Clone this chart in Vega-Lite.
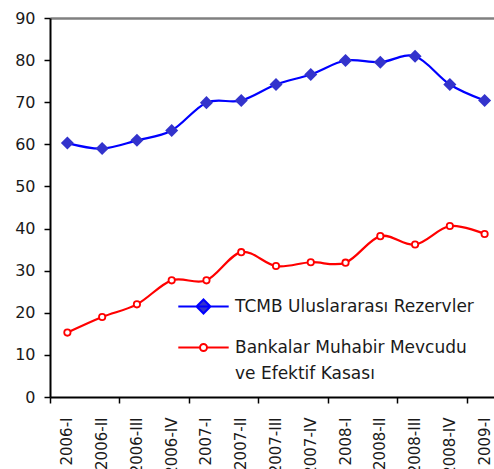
{
  "$schema": "https://vega.github.io/schema/vega-lite/v6.json",
  "width": 444,
  "height": 379,
  "autosize": {"type": "none"},
  "padding": {"left": 50, "top": 18, "right": 0, "bottom": 72},
  "background": "white",
  "config": {"view": {"stroke": null}, "font": "DejaVu Sans"},
  "data": {
    "values": [
      {"q": "2006-I", "series": "TCMB Uluslararası Rezervler", "v": 60.3},
      {"q": "2006-II", "series": "TCMB Uluslararası Rezervler", "v": 59.0},
      {"q": "2006-III", "series": "TCMB Uluslararası Rezervler", "v": 60.95},
      {"q": "2006-IV", "series": "TCMB Uluslararası Rezervler", "v": 63.3},
      {"q": "2007-I", "series": "TCMB Uluslararası Rezervler", "v": 69.9},
      {"q": "2007-II", "series": "TCMB Uluslararası Rezervler", "v": 70.4},
      {"q": "2007-III", "series": "TCMB Uluslararası Rezervler", "v": 74.2},
      {"q": "2007-IV", "series": "TCMB Uluslararası Rezervler", "v": 76.6},
      {"q": "2008-I", "series": "TCMB Uluslararası Rezervler", "v": 79.9},
      {"q": "2008-II", "series": "TCMB Uluslararası Rezervler", "v": 79.5},
      {"q": "2008-III", "series": "TCMB Uluslararası Rezervler", "v": 80.9},
      {"q": "2008-IV", "series": "TCMB Uluslararası Rezervler", "v": 74.2},
      {"q": "2009-I", "series": "TCMB Uluslararası Rezervler", "v": 70.4},
      {"q": "2006-I", "series": "Bankalar Muhabir Mevcudu ve Efektif Kasası", "v": 15.3},
      {"q": "2006-II", "series": "Bankalar Muhabir Mevcudu ve Efektif Kasası", "v": 19.0},
      {"q": "2006-III", "series": "Bankalar Muhabir Mevcudu ve Efektif Kasası", "v": 22.0},
      {"q": "2006-IV", "series": "Bankalar Muhabir Mevcudu ve Efektif Kasası", "v": 27.7},
      {"q": "2007-I", "series": "Bankalar Muhabir Mevcudu ve Efektif Kasası", "v": 27.7},
      {"q": "2007-II", "series": "Bankalar Muhabir Mevcudu ve Efektif Kasası", "v": 34.4},
      {"q": "2007-III", "series": "Bankalar Muhabir Mevcudu ve Efektif Kasası", "v": 31.1},
      {"q": "2007-IV", "series": "Bankalar Muhabir Mevcudu ve Efektif Kasası", "v": 32.0},
      {"q": "2008-I", "series": "Bankalar Muhabir Mevcudu ve Efektif Kasası", "v": 31.9},
      {"q": "2008-II", "series": "Bankalar Muhabir Mevcudu ve Efektif Kasası", "v": 38.2},
      {"q": "2008-III", "series": "Bankalar Muhabir Mevcudu ve Efektif Kasası", "v": 36.2},
      {"q": "2008-IV", "series": "Bankalar Muhabir Mevcudu ve Efektif Kasası", "v": 40.6},
      {"q": "2009-I", "series": "Bankalar Muhabir Mevcudu ve Efektif Kasası", "v": 38.7}
    ]
  },
  "resolve": {"axis": {"x": "independent", "y": "independent"}},
  "layer": [
    {
      "mark": {"type": "line", "interpolate": "cardinal", "strokeWidth": 2.2},
      "encoding": {
        "x": {
          "field": "q", "type": "ordinal",
          "sort": ["2006-I","2006-II","2006-III","2006-IV","2007-I","2007-II","2007-III","2007-IV","2008-I","2008-II","2008-III","2008-IV","2009-I"],
          "scale": {"type": "band", "range": [0, 452], "paddingInner": 0, "paddingOuter": 0},
          "axis": {
            "orient": "bottom", "title": null, "ticks": false, "tickSize": 0,
            "domain": true, "domainColor": "#000000", "domainWidth": 2,
            "labelAngle": -90, "labelAlign": "right", "labelBaseline": "middle",
            "labelPadding": 20, "labelFontSize": 15, "labelColor": "#1a1a1a",
            "labelOverlap": false, "grid": false
          }
        },
        "y": {
          "field": "v", "type": "quantitative",
          "scale": {"domain": [0, 90], "nice": false, "zero": true},
          "axis": {
            "orient": "left", "title": null, "values": [0,10,20,30,40,50,60,70,80,90],
            "grid": false, "domainColor": "#000000", "domainWidth": 2,
            "tickColor": "#000000", "tickSize": 6, "tickWidth": 1.5,
            "labelFontSize": 16, "labelColor": "#1a1a1a", "labelPadding": 9
          }
        },
        "color": {
          "field": "series", "type": "nominal",
          "scale": {"domain": ["TCMB Uluslararası Rezervler", "Bankalar Muhabir Mevcudu ve Efektif Kasası"], "range": ["#0000ff", "#ff0000"]},
          "legend": {
            "orient": "none", "legendX": 145, "legendY": 280,
            "title": null, "padding": 0,
            "symbolSize": 196, "symbolStrokeWidth": 2,
            "labelFontSize": 17, "labelColor": "#1a1a1a", "labelLimit": 400,
            "labelOffset": 23, "rowPadding": 20,
            "labelExpr": "datum.label == 'Bankalar Muhabir Mevcudu ve Efektif Kasası' ? ['Bankalar Muhabir Mevcudu', 've Efektif Kasası'] : datum.label",
            "encode": {
              "symbols": {
                "update": {
                  "shape": {"signal": "datum.value == 'TCMB Uluslararası Rezervler' ? 'M-3.6,0H3.6M0,-1L1,0L0,1L-1,0Z' : 'M-3.6,0H-0.5M0.5,0H3.6M0.5,0A0.5,0.5 0 1,1 -0.5,0A0.5,0.5 0 1,1 0.5,0Z'"},
                  "fill": {"signal": "datum.value == 'TCMB Uluslararası Rezervler' ? '#3333cc' : '#ffffff'"},
                  "strokeWidth": {"value": 2}
                }
              },
              "labels": {
                "update": {"lineHeight": {"value": 26}}
              }
            }
          }
        }
      }
    },
    {
      "transform": [{"filter": "datum.series == 'TCMB Uluslararası Rezervler'"}],
      "mark": {"type": "point", "shape": "diamond", "filled": true, "fill": "#3333cc", "opacity": 1, "size": 170, "strokeWidth": 0},
      "encoding": {
        "x": {
          "field": "q", "type": "ordinal",
          "sort": ["2006-I","2006-II","2006-III","2006-IV","2007-I","2007-II","2007-III","2007-IV","2008-I","2008-II","2008-III","2008-IV","2009-I"],
          "axis": {
            "orient": "bottom", "title": null, "labels": false, "domain": false, "grid": false,
            "values": ["2006-I","2006-III","2007-I","2007-III","2008-I","2008-III","2009-I"],
            "bandPosition": 0, "ticks": true, "tickColor": "#000000", "tickSize": 6, "tickWidth": 1.5
          }
        },
        "y": {
          "field": "v", "type": "quantitative",
          "axis": {
            "orient": "left", "title": null, "labels": false, "domain": false, "ticks": false,
            "values": [90], "grid": true, "gridColor": "#808080", "gridWidth": 2.5
          }
        }
      }
    },
    {
      "transform": [{"filter": "datum.series != 'TCMB Uluslararası Rezervler'"}],
      "mark": {"type": "point", "shape": "circle", "filled": true, "fill": "#ffffff", "stroke": "#ff0000", "opacity": 1, "size": 40, "strokeWidth": 1.8},
      "encoding": {
        "x": {"field": "q", "type": "ordinal", "sort": ["2006-I","2006-II","2006-III","2006-IV","2007-I","2007-II","2007-III","2007-IV","2008-I","2008-II","2008-III","2008-IV","2009-I"], "axis": null},
        "y": {"field": "v", "type": "quantitative", "axis": null}
      }
    }
  ]
}
